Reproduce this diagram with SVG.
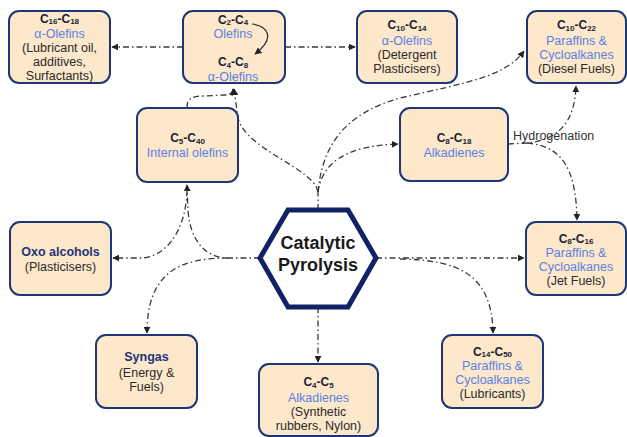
<svg xmlns="http://www.w3.org/2000/svg" width="627" height="437" viewBox="0 0 627 437">
<defs>
<style>
.box{fill:#fde8cc;stroke:#1e3674;stroke-width:2}
.t{font-family:"Liberation Sans",Arial,sans-serif;font-size:12.5px;text-anchor:middle;fill:#2a2a2a}
.h{font-family:"Liberation Sans",Arial,sans-serif;font-size:12px;font-weight:bold;text-anchor:middle;fill:#1a1d33}
.hb{font-family:"Liberation Sans",Arial,sans-serif;font-size:12.5px;font-weight:bold;text-anchor:middle;fill:#1e3674}
.b{fill:#5b7fe3}
.sub{font-size:8px}
.c{fill:none;stroke:#3a3a3a;stroke-width:1.3;stroke-dasharray:6 3 1.5 3}
.cs{fill:none;stroke:#2a2a2a;stroke-width:1.2}
</style>
<marker id="ah" viewBox="0 0 10 10" refX="9" refY="5" markerWidth="7" markerHeight="7" orient="auto" markerUnits="userSpaceOnUse">
<path d="M0,0 L10,5 L0,10 z" fill="#222"/>
</marker>
</defs>

<g id="connectors">
<path class="c" d="M318,210 L318,190"/>
<path class="c" d="M318,192 C314,168 246,150 238,118 L234,89" marker-end="url(#ah)"/>
<path class="c" d="M318,192 C322,150 340,115 400,98 C470,82 506,76 524,51" marker-end="url(#ah)"/>
<path class="c" d="M318,192 C322,165 342,146 398,144" marker-end="url(#ah)"/>
<path class="c" d="M187,108 C187,98 192,96 205,96 L224,95 C230,95 233,92 233,89" marker-end="url(#ah)"/>
<path class="c" d="M183,47 L112,47" marker-end="url(#ah)"/>
<path class="c" d="M285,47 L355,47" marker-end="url(#ah)"/>
<path class="c" d="M260,258 L228,258 C205,258 190,240 188,210 L187,185" marker-end="url(#ah)"/>
<path class="c" d="M187,190 C186,232 165,258 140,258 L113,258" marker-end="url(#ah)"/>
<path class="c" d="M228,258 C180,258 147,272 147,333" marker-end="url(#ah)"/>
<path class="c" d="M376,258 L524,258" marker-end="url(#ah)"/>
<path class="c" d="M400,259 C460,260 492,275 493,333" marker-end="url(#ah)"/>
<path class="c" d="M318,307 L318,362" marker-end="url(#ah)"/>
<path class="c" d="M508,144 L527,143 C560,140 575,120 576,86" marker-end="url(#ah)"/>
<path class="c" d="M527,143 C560,146 576,165 577,220" marker-end="url(#ah)"/>
</g>

<text class="t" x="513" y="140" style="text-anchor:start;fill:#333">Hydrogenation</text>

<g id="n-c16">
<rect class="box" x="9" y="11" width="101" height="72" rx="10"/>
<text class="h" x="59.5" y="22.5">C<tspan class="sub" dy="1.5">16</tspan><tspan dy="-1.5">-C</tspan><tspan class="sub" dy="1.5">18</tspan></text>
<text class="t b" x="59.5" y="37.5">α-Olefins</text>
<text class="t" x="59.5" y="52">(Lubricant oil,</text>
<text class="t" x="59.5" y="66">additives,</text>
<text class="t" x="59.5" y="80">Surfactants)</text>
</g>

<g id="n-c2">
<rect class="box" x="183" y="11" width="102" height="72" rx="10"/>
<text class="h" x="233" y="23.5">C<tspan class="sub" dy="1.5">2</tspan><tspan dy="-1.5">-C</tspan><tspan class="sub" dy="1.5">4</tspan></text>
<text class="t b" x="233" y="37.5">Olefins</text>
<text class="h" x="233" y="66">C<tspan class="sub" dy="1.5">4</tspan><tspan dy="-1.5">-C</tspan><tspan class="sub" dy="1.5">8</tspan></text>
<text class="t b" x="233" y="80.5">α-Olefins</text>
<path class="cs" d="M252,24 C268,26 276,38 255,54" marker-end="url(#ah)"/>
</g>

<g id="n-c10a">
<rect class="box" x="357" y="11" width="100" height="72" rx="10"/>
<text class="h" x="407" y="29">C<tspan class="sub" dy="1.5">10</tspan><tspan dy="-1.5">-C</tspan><tspan class="sub" dy="1.5">14</tspan></text>
<text class="t b" x="407" y="45">α-Olefins</text>
<text class="t" x="407" y="59">(Detergent</text>
<text class="t" x="407" y="73">Plasticisers)</text>
</g>

<g id="n-c10b">
<rect class="box" x="527" y="11" width="99" height="72" rx="10"/>
<text class="h" x="576.5" y="29">C<tspan class="sub" dy="1.5">10</tspan><tspan dy="-1.5">-C</tspan><tspan class="sub" dy="1.5">22</tspan></text>
<text class="t b" x="576.5" y="45">Paraffins &amp;</text>
<text class="t b" x="576.5" y="59">Cycloalkanes</text>
<text class="t" x="576.5" y="73">(Diesel Fuels)</text>
</g>

<g id="n-c5">
<rect class="box" x="137" y="108" width="101" height="74" rx="10"/>
<text class="h" x="187.5" y="142">C<tspan class="sub" dy="1.5">5</tspan><tspan dy="-1.5">-C</tspan><tspan class="sub" dy="1.5">40</tspan></text>
<text class="t b" x="187.5" y="156.5">Internal olefins</text>
</g>

<g id="n-c8a">
<rect class="box" x="400" y="108" width="108" height="73" rx="10"/>
<text class="h" x="454" y="142">C<tspan class="sub" dy="1.5">8</tspan><tspan dy="-1.5">-C</tspan><tspan class="sub" dy="1.5">18</tspan></text>
<text class="t b" x="454" y="156.5">Alkadienes</text>
</g>

<g id="n-oxo">
<rect class="box" x="10" y="222" width="101" height="73" rx="10"/>
<text class="hb" x="60.5" y="256">Oxo alcohols</text>
<text class="t" x="60.5" y="270.5">(Plasticisers)</text>
</g>

<g id="hexagon">
<polygon points="288,210 348,210 376,258 348,307 288,307 260,258" fill="#fff" stroke="#102266" stroke-width="5" stroke-linejoin="miter"/>
<text x="318" y="249" style="font-family:'Liberation Sans',Arial,sans-serif;font-size:18px;font-weight:bold;text-anchor:middle;fill:#1a1a1a">Catalytic</text>
<text x="318" y="271" style="font-family:'Liberation Sans',Arial,sans-serif;font-size:18px;font-weight:bold;text-anchor:middle;fill:#1a1a1a">Pyrolysis</text>
</g>

<g id="n-c8b">
<rect class="box" x="526" y="222" width="100" height="73" rx="10"/>
<text class="h" x="576" y="242.5">C<tspan class="sub" dy="1.5">8</tspan><tspan dy="-1.5">-C</tspan><tspan class="sub" dy="1.5">16</tspan></text>
<text class="t b" x="576" y="256.5">Paraffins &amp;</text>
<text class="t b" x="576" y="270.5">Cycloalkanes</text>
<text class="t" x="576" y="284.5">(Jet Fuels)</text>
</g>

<g id="n-syngas">
<rect class="box" x="96" y="335" width="101" height="73" rx="10"/>
<text class="hb" x="146.5" y="361">Syngas</text>
<text class="t" x="146.5" y="376.5">(Energy &amp;</text>
<text class="t" x="146.5" y="390.5">Fuels)</text>
</g>

<g id="n-c4">
<rect class="box" x="259" y="364" width="119" height="72" rx="10"/>
<text class="h" x="318.5" y="386">C<tspan class="sub" dy="1.5">4</tspan><tspan dy="-1.5">-C</tspan><tspan class="sub" dy="1.5">5</tspan></text>
<text class="t b" x="318.5" y="401.5">Alkadienes</text>
<text class="t" x="318.5" y="415.5">(Synthetic</text>
<text class="t" x="318.5" y="429.5">rubbers, Nylon)</text>
</g>

<g id="n-c14">
<rect class="box" x="442" y="335" width="101" height="73" rx="10"/>
<text class="h" x="492.5" y="355.5">C<tspan class="sub" dy="1.5">14</tspan><tspan dy="-1.5">-C</tspan><tspan class="sub" dy="1.5">50</tspan></text>
<text class="t b" x="492.5" y="369.5">Paraffins &amp;</text>
<text class="t b" x="492.5" y="383.5">Cycloalkanes</text>
<text class="t" x="492.5" y="397.5">(Lubricants)</text>
</g>
</svg>
